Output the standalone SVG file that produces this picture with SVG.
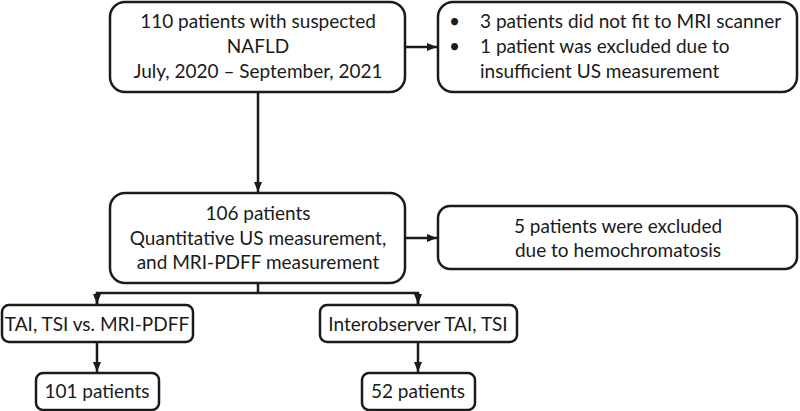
<svg xmlns="http://www.w3.org/2000/svg" width="800" height="411" viewBox="0 0 800 411">
<style>
.box{fill:#fff;stroke:#1a1a1a;stroke-width:2.5}
.t{font-family:Lato,"Open Sans",sans-serif;font-size:19px;fill:#1a1a1a}
.c{text-anchor:middle}
.ln{stroke:#1a1a1a;stroke-width:2.5;fill:none}
</style>
<defs>
<marker id="ah" viewBox="0 0 10 10" refX="10" refY="5" markerWidth="4" markerHeight="4" orient="auto" markerUnits="strokeWidth">
<path d="M0,1 L10,5 L0,9 z" fill="#1a1a1a"/>
</marker>
</defs>
<rect width="800" height="411" fill="#fff"/>
<g id="connectors">
<line class="ln" x1="405" y1="47" x2="437" y2="47" marker-end="url(#ah)"/>
<line class="ln" x1="258" y1="92" x2="258" y2="192" marker-end="url(#ah)"/>
<line class="ln" x1="405" y1="238" x2="437" y2="238" marker-end="url(#ah)"/>
<line class="ln" x1="258" y1="283" x2="258" y2="293"/>
<polyline class="ln" points="97,304 97,293 418,293 418,304"/>
<line class="ln" x1="97" y1="293" x2="97" y2="304" marker-end="url(#ah)"/>
<line class="ln" x1="418" y1="293" x2="418" y2="304" marker-end="url(#ah)"/>
<line class="ln" x1="97" y1="342" x2="97" y2="372" marker-end="url(#ah)"/>
<line class="ln" x1="418" y1="342" x2="418" y2="372" marker-end="url(#ah)"/>
</g>
<g id="n1">
<rect class="box" x="110" y="2" width="295" height="90" rx="15"/>
<text class="t c" x="258" y="28">110 patients with suspected</text>
<text class="t c" x="258" y="53">NAFLD</text>
<text class="t c" x="258" y="78">July, 2020 – September, 2021</text>
</g>
<g id="n2">
<rect class="box" x="438" y="2" width="359" height="90" rx="15"/>
<text class="t" x="449" y="28">•</text>
<text class="t" x="480" y="28">3 patients did not fit to MRI scanner</text>
<text class="t" x="449" y="53">•</text>
<text class="t" x="480" y="53">1 patient was excluded due to</text>
<text class="t" x="480" y="78">insufficient US measurement</text>
</g>
<g id="n3">
<rect class="box" x="110" y="193" width="295" height="90" rx="15"/>
<text class="t c" x="258" y="220">106 patients</text>
<text class="t c" x="258" y="245">Quantitative US measurement,</text>
<text class="t c" x="258" y="269">and MRI-PDFF measurement</text>
</g>
<g id="n4">
<rect class="box" x="438" y="206" width="359" height="63" rx="12"/>
<text class="t c" x="618" y="233">5 patients were excluded</text>
<text class="t c" x="618" y="257">due to hemochromatosis</text>
</g>
<g id="n5">
<rect class="box" x="2" y="305" width="191" height="37" rx="7"/>
<text class="t c" x="97" y="331">TAI, TSI vs. MRI-PDFF</text>
</g>
<g id="n6">
<rect class="box" x="320" y="305" width="197" height="37" rx="7"/>
<text class="t c" x="418" y="331">Interobserver TAI, TSI</text>
</g>
<g id="n7">
<rect class="box" x="36" y="373" width="123" height="37" rx="7"/>
<text class="t c" x="97" y="398">101 patients</text>
</g>
<g id="n8">
<rect class="box" x="362" y="373" width="113" height="37" rx="7"/>
<text class="t c" x="418" y="398">52 patients</text>
</g>
</svg>
